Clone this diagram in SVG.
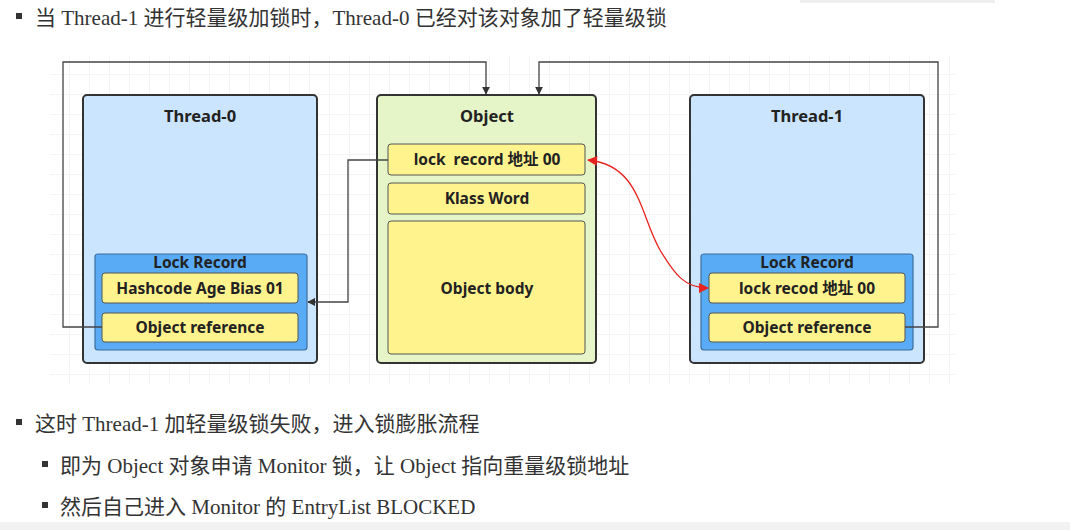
<svg xmlns="http://www.w3.org/2000/svg" width="1070" height="530" viewBox="0 0 1070 530">
<defs>
<pattern id="grid" width="20" height="20" patternUnits="userSpaceOnUse" x="50" y="55">
<path d="M20 0 V20 M0 20 H20" fill="none" stroke="#e8e8e8" stroke-width="1"/>
</pattern>
<marker id="arrB" viewBox="0 0 10 10" refX="9" refY="5" markerWidth="8" markerHeight="8" orient="auto-start-reverse" markerUnits="userSpaceOnUse">
<path d="M0 0 L10 5 L0 10 Z" fill="#333"/>
</marker>
<marker id="arrR" viewBox="0 0 10 10" refX="9" refY="5" markerWidth="12" markerHeight="10" orient="auto-start-reverse" markerUnits="userSpaceOnUse">
<path d="M0 0 L10 5 L0 10 Z" fill="#e8231f"/>
</marker>
</defs>
<style>
.doc{font-family:"Liberation Serif","Noto Sans CJK SC",serif;font-size:21px;fill:#333}
.lbl{font-family:"Noto Sans","Noto Sans CJK SC",sans-serif;font-weight:bold;font-size:15.5px;fill:#222;text-anchor:middle}
.ttl{font-size:16.5px}
.thread{fill:#cce5ff;stroke:#333;stroke-width:2}
.obj{fill:#e6f5c8;stroke:#333;stroke-width:2}
.lr{fill:#5aabf5;stroke:#3a6f9f;stroke-width:1.2}
.cell{fill:#fff38e;stroke:#555;stroke-width:1}
.conn{fill:none;stroke:#444;stroke-width:1.3}
.bul{fill:#333}
</style>
<rect width="1070" height="530" fill="#fff"/>
<rect x="800" y="0" width="195" height="3" fill="#eee"/>
<rect x="0" y="522" width="1070" height="8" fill="#f2f2f2"/>
<rect x="50" y="55" width="905" height="330" fill="url(#grid)"/>

<g id="text-top">
<rect class="bul" x="16" y="13" width="6" height="6"/>
<text class="doc" x="35" y="25">当 Thread-1 进行轻量级加锁时，Thread-0 已经对该对象加了轻量级锁</text>
</g>

<g id="thread0">
<rect class="thread" x="83" y="95" width="234" height="268" rx="4"/>
<text class="lbl ttl" x="200" y="122">Thread-0</text>
<rect class="lr" x="95" y="254" width="212" height="96" rx="3"/>
<text class="lbl" x="200" y="268">Lock Record</text>
<rect class="cell" x="102" y="273" width="196" height="30" rx="3"/>
<text class="lbl" x="200" y="294">Hashcode Age Bias 01</text>
<rect class="cell" x="102" y="313" width="196" height="29" rx="3"/>
<text class="lbl" x="200" y="333">Object reference</text>
</g>

<g id="object">
<rect class="obj" x="377" y="95" width="219" height="268" rx="4"/>
<text class="lbl ttl" x="487" y="122">Object</text>
<rect class="cell" x="388" y="144" width="197" height="31" rx="3"/>
<text class="lbl" x="487" y="165" xml:space="preserve">lock  record 地址 00</text>
<rect class="cell" x="388" y="183" width="197" height="31" rx="3"/>
<text class="lbl" x="487" y="204">Klass Word</text>
<rect class="cell" x="388" y="221" width="197" height="133" rx="3"/>
<text class="lbl" x="487" y="294">Object body</text>
</g>

<g id="thread1">
<rect class="thread" x="690" y="95" width="234" height="268" rx="4"/>
<text class="lbl ttl" x="807" y="122">Thread-1</text>
<rect class="lr" x="701" y="254" width="212" height="96" rx="3"/>
<text class="lbl" x="807" y="268">Lock Record</text>
<rect class="cell" x="709" y="273" width="196" height="30" rx="3"/>
<text class="lbl" x="807" y="294">lock recod 地址 00</text>
<rect class="cell" x="709" y="313" width="196" height="29" rx="3"/>
<text class="lbl" x="807" y="333">Object reference</text>
</g>

<g id="connectors">
<path class="conn" d="M102 327 H63 V62 H486 V94" marker-end="url(#arrB)"/>
<path class="conn" d="M905 327 H938 V62 H539 V94" marker-end="url(#arrB)"/>
<path class="conn" d="M388 160 H348 V302 H308" marker-end="url(#arrB)"/>
<path d="M588 160 C 640 165, 640 215, 660 250 C 675 275, 685 288, 708 288" fill="none" stroke="#e8231f" stroke-width="1.3" marker-start="url(#arrR)" marker-end="url(#arrR)"/>
</g>

<g id="text-bottom">
<rect class="bul" x="16" y="419" width="6" height="6"/>
<text class="doc" x="35" y="431">这时 Thread-1 加轻量级锁失败，进入锁膨胀流程</text>
<rect class="bul" x="42" y="461" width="6" height="6"/>
<text class="doc" x="60" y="473">即为 Object 对象申请 Monitor 锁，让 Object 指向重量级锁地址</text>
<rect class="bul" x="42" y="502" width="6" height="6"/>
<text class="doc" x="60" y="514">然后自己进入 Monitor 的 EntryList BLOCKED</text>
</g>
</svg>
